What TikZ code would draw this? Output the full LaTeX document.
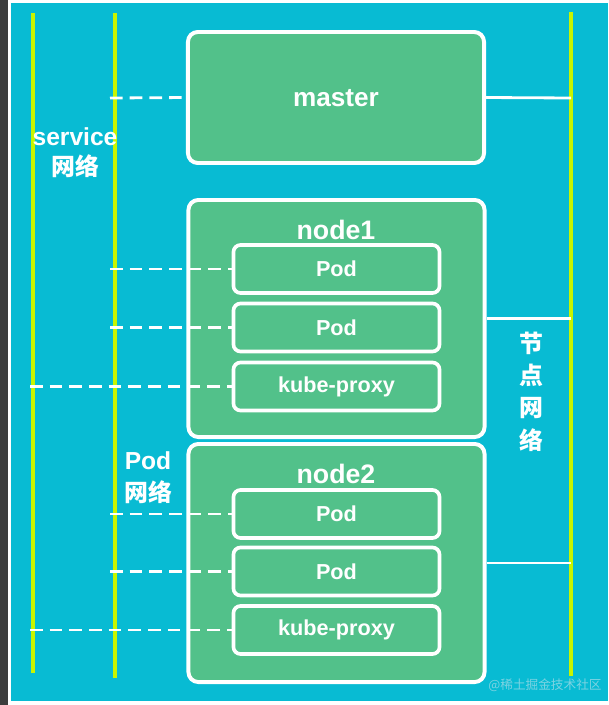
\documentclass[tikz,border=0pt]{standalone}
\usepackage{fontspec}
\setmainfont{Liberation Sans}
\newfontfamily\cjk{Noto Sans CJK SC}
\usepackage{tikz}
\usepackage{xcolor}
\usetikzlibrary{positioning}
\definecolor{K8s_Cyan}{HTML}{08BBD3}
\definecolor{K8s_Green}{HTML}{52C18A}
\definecolor{K8s_Lime}{HTML}{C8F500}
\definecolor{K8s_Dark}{HTML}{3C3C3C}
\definecolor{K8s_Mark}{HTML}{7CD3E2}

\tikzset{
    hostbox/.style={draw=white, fill=K8s_Green, line width=2.8pt, rounded corners=7pt,
        minimum width=7.4cm, inner sep=0pt},
    podbox/.style={draw=white, fill=K8s_Green, line width=2.6pt, rounded corners=5pt,
        minimum width=5.15cm, minimum height=1.2cm, inner sep=0pt,
        text=white, font=\bfseries\fontsize{15.4}{17}\selectfont},
    netline/.style={K8s_Lime, line width=2.2pt},
    podlink/.style={white, line width=2pt, dash pattern=on 9pt off 5pt},
    hostlink/.style={white, line width=2pt},
    lbl/.style={text=white, font=\bfseries\fontsize{17.5}{20}\selectfont, inner sep=0pt},
    cjklbl/.style={text=white, font=\cjk\bfseries\fontsize{17}{19}\selectfont, inner sep=0pt}
}

\begin{document}
\begin{tikzpicture}[x=0.025cm, y=-0.025cm]
    \useasboundingbox (0,0) rectangle (608,705);
    % background
    \fill[white] (0,0) rectangle (608,705);
    \fill[K8s_Dark] (0,0) rectangle (8,705);
    \fill[K8s_Cyan] (11,3) rectangle (608,701);

    % network lines
    \coordinate (svcT) at (33,13);  \coordinate (svcB) at (33,673);
    \coordinate (podT) at (115,13); \coordinate (podB) at (115,678);
    \coordinate (hostT) at (571,12); \coordinate (hostB) at (571,676);
    \draw[netline] (svcT) -- (svcB);
    \draw[netline] (podT) -- (podB);
    \draw[netline] (hostT) -- (hostB);

    % master
    \node[hostbox, minimum height=3.275cm] (master) at (336,97.5) {};
    \node[lbl, font=\bfseries\fontsize{18.6}{20}\selectfont] (masterlbl) at (336,98) {master};

    % node1
    \node[hostbox, minimum height=5.925cm] (node1) at (336.5,318.5) {};
    \node[lbl, font=\bfseries\fontsize{19}{21}\selectfont] (node1lbl) at (336,230) {node1};
    \node[podbox] (pod11) at (336.5,269) {Pod};
    \node[podbox] (pod12) at (336.5,327.5) {Pod};
    \node[podbox] (proxy1) at (336.5,386.5) {kube-proxy};

    % node2
    \node[hostbox, minimum height=5.95cm] (node2) at (336.5,563) {};
    \node[lbl, font=\bfseries\fontsize{19}{21}\selectfont] (node2lbl) at (336,474) {node2};
    \node[podbox] (pod21) at (336.5,514) {Pod};
    \node[podbox] (pod22) at (336.5,571.5) {Pod};
    \node[podbox] (proxy2) at (336.5,630) {kube-proxy};

    % links to networks
    \coordinate (mA) at (110,98);
    \coordinate (p11A) at (110,269);  \coordinate (p12A) at (110,327.5);
    \coordinate (k1A) at (30,386.5);
    \coordinate (p21A) at (110,514);  \coordinate (p22A) at (110,571.5);
    \coordinate (k2A) at (30,630);
    \draw[podlink] (mA) -- (master.west);
    \draw[podlink] (p11A) -- (pod11.west);
    \draw[podlink] (p12A) -- (pod12.west);
    \draw[podlink] (k1A) -- (proxy1.west);
    \draw[podlink] (p21A) -- (pod21.west);
    \draw[podlink] (p22A) -- (pod22.west);
    \draw[podlink] (k2A) -- (proxy2.west);
    \coordinate (mB) at (571,98);
    \coordinate (n1B) at (571,318.5);
    \coordinate (n2B) at (571,563);
    \draw[hostlink] (master.east) -- (mB);
    \draw[hostlink] (node1.east) -- (n1B);
    \draw[hostlink] (node2.east) -- (n2B);

    % network names
    \node[lbl] (svclbl) at (75,137) {service};
    \node[cjklbl] (svclbl2) at (75,166) {网络};
    \node[lbl] (podlbl) at (148,461) {Pod};
    \node[cjklbl] (podlbl2) at (148,492) {网络};
    \node[cjklbl] (hostlbl1) at (531,343) {节};
    \node[cjklbl] (hostlbl2) at (531,375) {点};
    \node[cjklbl] (hostlbl3) at (531,408) {网};
    \node[cjklbl] (hostlbl4) at (531,440) {络};

    % watermark
    \node[text=K8s_Mark, font=\cjk\fontsize{9}{10}\selectfont, inner sep=0pt] (mark) at (545,685) {@稀土掘金技术社区};
\end{tikzpicture}
\end{document}
